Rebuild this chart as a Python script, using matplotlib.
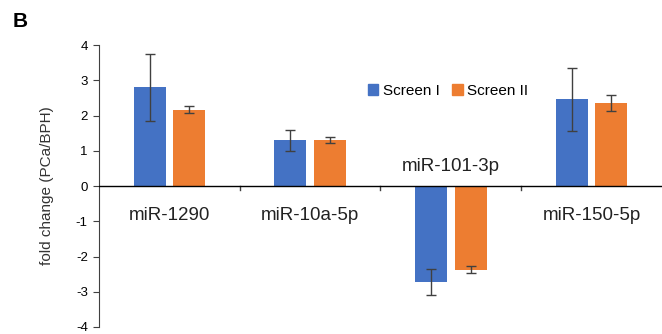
import numpy as np
import matplotlib.pyplot as plt
from matplotlib.patches import Patch

plt.rcParams['font.family'] = ['Liberation Sans', 'DejaVu Sans']
plt.rcParams['axes.unicode_minus'] = False

mirnas = ['miR-1290', 'miR-10a-5p', 'miR-101-3p', 'miR-150-5p']
screen1 = [2.80, 1.30, -2.73, 2.46]
screen1_err = [0.95, 0.30, 0.37, 0.89]
screen2 = [2.17, 1.30, -2.38, 2.35]
screen2_err = [0.10, 0.08, 0.10, 0.23]

blue = '#4472C4'
orange = '#ED7D31'

fig = plt.figure(figsize=(6.62, 3.34), dpi=100)
ax = fig.add_axes([0.1495, 0.021, 0.8505, 0.844])

x = np.arange(len(mirnas)) + 0.5
w = 0.227
ekw = dict(ecolor='#404040', elinewidth=1, capsize=3.5, capthick=1)
ax.bar(x - 0.14, screen1, w, yerr=screen1_err, color=blue, error_kw=ekw, label='Screen I', zorder=2)
ax.bar(x + 0.14, screen2, w, yerr=screen2_err, color=orange, error_kw=ekw, label='Screen II', zorder=2)

ax.set_xlim(0, 4)
ax.set_ylim(-4, 4)
ax.set_yticks(range(-4, 5))
for s in ['top', 'right', 'bottom']:
    ax.spines[s].set_visible(False)
ax.spines['left'].set_color('#404040')
ax.tick_params(axis='y', length=4, color='#404040', labelsize=9.5, pad=4)
ax.set_xticks([])
ax.axhline(0, color='black', lw=1, zorder=3)
for b in [1, 2, 3]:
    ax.plot([b, b], [0, -0.1], color='#404040', lw=1, clip_on=False)

for i, name in enumerate(mirnas):
    if screen1[i] < 0:
        ax.text(x[i], 0.56, name, ha='center', va='center', fontsize=13.5, color='#222222')
    else:
        ax.text(x[i], -0.85, name, ha='center', va='center', fontsize=13.5, color='#222222')

ax.set_ylabel('fold change (PCa/BPH)', fontsize=11, labelpad=16, color='#333333')

handles = [Patch(color=blue, label='Screen I'), Patch(color=orange, label='Screen II')]
ax.legend(handles=handles, loc='center', bbox_to_anchor=(0.62, 0.837), ncol=2, frameon=False,
          fontsize=11, handlelength=0.7, handleheight=0.7, handletextpad=0.3, columnspacing=0.8)

fig.text(0.019, 0.937, 'B', fontsize=15, fontweight='bold', ha='left', va='center')

fig.savefig('out.png', dpi=100)
